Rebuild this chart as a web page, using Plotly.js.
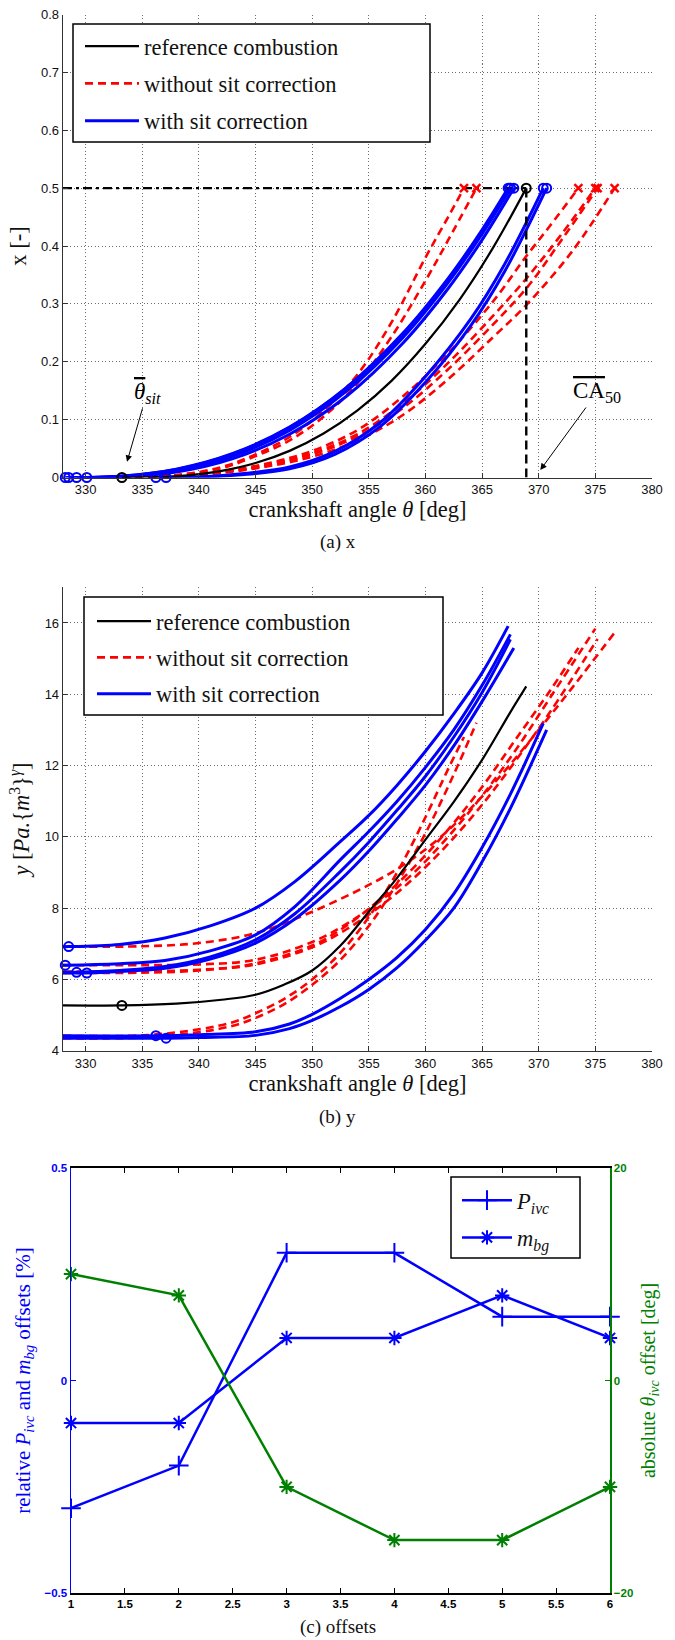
<!DOCTYPE html>
<html><head><meta charset="utf-8">
<script src="https://cdn.plot.ly/plotly-3.0.1.min.js"></script>
<style>html,body{margin:0;padding:0;background:#fff;}</style>
</head><body>
<div id="chart" style="width:675px;height:1640px;"></div>
<script>
// ---------------- (a) x : mass fraction burned ----------------
const aRefTheta = [333.2, 336, 339, 342, 345, 348, 351, 354, 357, 360, 363, 366, 368.9];
const aRefX     = [0, 0.0005, 0.0037, 0.0114, 0.025, 0.046, 0.076, 0.116, 0.167, 0.231, 0.307, 0.398, 0.5];

const aBlueTheta1 = [328.5, 333, 338, 343, 348, 353, 358, 362, 365, 367.3];
const aBlueX1     = [0, 0.0021, 0.0138, 0.0407, 0.0865, 0.155, 0.249, 0.344, 0.428, 0.5];
const aBlueTheta2 = [328.2, 333, 338, 343, 348, 353, 358, 362, 365, 367.5];
const aBlueX2     = [0, 0.0023, 0.0145, 0.0415, 0.087, 0.1546, 0.247, 0.340, 0.423, 0.5];
const aBlueTheta3 = [329.2, 333, 338, 343, 348, 353, 358, 362, 365, 367.5];
const aBlueX3     = [0, 0.0014, 0.0118, 0.037, 0.0815, 0.1487, 0.2417, 0.3368, 0.4209, 0.5];
const aBlueTheta4 = [330.1, 333, 338, 343, 348, 353, 358, 362, 365, 367.8];
const aBlueX4     = [0, 0.0007, 0.0093, 0.0325, 0.0748, 0.140, 0.232, 0.3266, 0.4107, 0.5];
const aBlueTheta5 = [336.2, 340, 344, 348, 352, 356, 360, 364, 367, 370.4];
const aBlueX5     = [0, 0.0009, 0.0069, 0.018, 0.045, 0.095, 0.1747, 0.274, 0.369, 0.5];
const aBlueTheta6 = [337.1, 340, 344, 348, 352, 356, 360, 364, 367, 370.7];
const aBlueX6     = [0, 0.0004, 0.0051, 0.015, 0.04, 0.088, 0.1645, 0.2624, 0.3564, 0.5];

const aRedTheta1 = [333.2, 338, 342, 345, 348, 351, 354, 357, 360, 362, 363.4];
const aRedX1     = [0, 0.004, 0.018, 0.04, 0.07, 0.115, 0.178, 0.268, 0.38, 0.45, 0.5];
const aRedTheta2 = [333.2, 338, 342, 345, 348, 351, 354, 357, 360, 362, 364.5];
const aRedX2     = [0, 0.004, 0.016, 0.037, 0.064, 0.105, 0.163, 0.243, 0.34, 0.41, 0.5];
const aRedTheta3 = [333.2, 338, 342, 346, 350, 354, 358, 362, 366, 369, 371, 373.5];
const aRedX3     = [0, 0.003, 0.01, 0.024, 0.046, 0.082, 0.14, 0.215, 0.305, 0.385, 0.435, 0.5];
const aRedTheta4 = [333.2, 338, 342, 346, 350, 354, 358, 362, 366, 369, 372, 375];
const aRedX4     = [0, 0.003, 0.009, 0.022, 0.042, 0.075, 0.128, 0.198, 0.28, 0.346, 0.42, 0.5];
const aRedTheta5 = [333.2, 338, 342, 346, 350, 354, 358, 362, 366, 369, 372, 375.2];
const aRedX5     = [0, 0.003, 0.009, 0.021, 0.04, 0.071, 0.12, 0.187, 0.265, 0.329, 0.41, 0.5];
const aRedTheta6 = [333.2, 338, 342, 346, 350, 354, 358, 362, 366, 369, 373, 376.7];
const aRedX6     = [0, 0.002, 0.008, 0.019, 0.036, 0.064, 0.108, 0.17, 0.243, 0.3, 0.392, 0.5];

// ---------------- (b) y = p V^gamma ----------------
const bRefTheta = [328, 333.2, 338, 342, 345, 347.5, 350, 352.5, 355, 357.5, 360, 362.5, 365, 367.5, 368.9];
const bRefY     = [5.27, 5.27, 5.32, 5.43, 5.57, 5.85, 6.25, 6.95, 7.9, 8.85, 9.92, 10.98, 12.16, 13.5, 14.22];

const bBlueTheta1 = [328, 328.5, 333, 337, 341, 345, 348.5, 352.5, 355, 357.5, 360, 362.5, 365, 367.3];
const bBlueY1     = [6.92, 6.92, 6.98, 7.16, 7.5, 8.0, 8.75, 9.87, 10.6, 11.45, 12.4, 13.45, 14.6, 15.91];
const bBlueTheta2 = [328, 328.2, 333, 337, 341, 345, 348.5, 352.5, 355, 357.5, 360, 362.5, 365, 367.5];
const bBlueY2     = [6.4, 6.4, 6.44, 6.53, 6.8, 7.25, 8.05, 9.36, 10.15, 11.0, 11.95, 13.0, 14.25, 15.68];
const bBlueTheta3 = [328, 329.2, 333, 337, 341, 345, 348.5, 352.5, 355, 357.5, 360, 362.5, 365, 367.5];
const bBlueY3     = [6.2, 6.2, 6.25, 6.36, 6.63, 7.11, 7.85, 9.03, 9.85, 10.75, 11.7, 12.8, 14.05, 15.54];
const bBlueTheta4 = [328, 330.1, 333, 337, 341, 345, 348.5, 352.5, 355, 357.5, 360, 362.5, 365, 367.8];
const bBlueY4     = [6.18, 6.18, 6.22, 6.31, 6.57, 7.02, 7.7, 8.79, 9.6, 10.5, 11.45, 12.55, 13.8, 15.3];
const bBlueTheta5 = [328, 336.2, 340, 345, 348, 350, 352.5, 355, 357.5, 360, 362.5, 365, 367.5, 370.4];
const bBlueY5     = [4.42, 4.42, 4.45, 4.53, 4.75, 5.02, 5.47, 6.0, 6.62, 7.4, 8.4, 9.7, 11.2, 13.18];
const bBlueTheta6 = [328, 337.1, 340, 345, 348, 350, 352.5, 355, 357.5, 360, 362.5, 365, 367.5, 370.7];
const bBlueY6     = [4.35, 4.35, 4.37, 4.43, 4.62, 4.85, 5.24, 5.72, 6.33, 7.1, 8.0, 9.3, 10.8, 13.0];

const bRedTheta1 = [328, 335, 340, 343, 345, 347.5, 350, 352.5, 355, 357.5, 360, 362, 363.4];
const bRedY1     = [4.42, 4.43, 4.6, 4.8, 5.05, 5.45, 6.0, 6.75, 7.75, 9.0, 10.55, 11.9, 12.8];
const bRedTheta2 = [328, 335, 340, 343, 345, 347.5, 350, 352.5, 355, 357.5, 360, 362.5, 364.5];
const bRedY2     = [4.35, 4.37, 4.52, 4.7, 4.92, 5.3, 5.85, 6.55, 7.5, 8.7, 10.1, 11.75, 13.2];
const bRedTheta3 = [328, 335, 340, 345, 350, 353, 356, 359, 362, 365, 368, 371, 373.5];
const bRedY3     = [6.18, 6.19, 6.25, 6.45, 6.95, 7.5, 8.25, 9.15, 10.2, 11.4, 12.75, 14.1, 15.3];
const bRedTheta4 = [328, 335, 340, 345, 350, 353, 356, 359, 362, 365, 368, 371, 375];
const bRedY4     = [6.4, 6.4, 6.42, 6.55, 7.05, 7.55, 8.2, 9.0, 10.0, 11.15, 12.45, 13.9, 15.84];
const bRedTheta5 = [328, 335, 340, 345, 350, 353, 356, 359, 362, 365, 368, 371, 375.2];
const bRedY5     = [6.22, 6.23, 6.27, 6.42, 6.9, 7.4, 8.05, 8.85, 9.8, 10.9, 12.15, 13.5, 15.55];
const bRedTheta6 = [328, 335, 340, 345, 350, 355, 358, 361, 364, 367, 370, 373, 376.7];
const bRedY6     = [6.92, 6.93, 7.02, 7.3, 7.9, 8.65, 9.2, 9.9, 10.8, 11.85, 13.0, 14.2, 15.73];

// ---------------- (c) offsets ----------------
const offsetIndex    = [1, 2, 3, 4, 5, 6];
const pIvcOffset     = [-0.3, -0.2, 0.3, 0.3, 0.15, 0.15];
const mBgOffset      = [-0.1, -0.1, 0.1, 0.1, 0.2, 0.1];
const thetaIvcOffset = [10, 8, -10, -15, -15, -10];

const thetaRange = [328, 380];

// ---------------- styling ----------------
const BLUE = 'rgb(0,0,255)', RED = 'rgb(255,0,0)', GREEN = 'rgb(0,128,0)', BLACK = 'rgb(0,0,0)';
const SERIF = '"Liberation Serif", "Times New Roman", serif';
const SANS = '"Liberation Sans", Arial, sans-serif';
const REDDASH = '8px,5px';
const W = 675, H = 1640;
const px = v => v / W, py = v => 1 - v / H;

const aBlueThetas = [aBlueTheta1, aBlueTheta2, aBlueTheta3, aBlueTheta4, aBlueTheta5, aBlueTheta6];
const aBlueXs = [aBlueX1, aBlueX2, aBlueX3, aBlueX4, aBlueX5, aBlueX6];
const aRedThetas = [aRedTheta1, aRedTheta2, aRedTheta3, aRedTheta4, aRedTheta5, aRedTheta6];
const aRedXs = [aRedX1, aRedX2, aRedX3, aRedX4, aRedX5, aRedX6];
const bBlueThetas = [bBlueTheta1, bBlueTheta2, bBlueTheta3, bBlueTheta4, bBlueTheta5, bBlueTheta6];
const bBlueYs = [bBlueY1, bBlueY2, bBlueY3, bBlueY4, bBlueY5, bBlueY6];
const bRedThetas = [bRedTheta1, bRedTheta2, bRedTheta3, bRedTheta4, bRedTheta5, bRedTheta6];
const bRedYs = [bRedY1, bRedY2, bRedY3, bRedY4, bRedY5, bRedY6];
const last = a => a[a.length - 1];

function curve(xs, ys, xa, ya, color, width, dash, name, show, legendId, group, rank) {
  return {type: 'scatter', mode: 'lines', x: xs, y: ys, xaxis: xa, yaxis: ya,
    line: {color: color, width: width, dash: dash || 'solid', shape: 'spline', smoothing: 1},
    name: name, showlegend: show, legend: legendId, legendgroup: group, legendrank: rank,
    hoverinfo: 'skip'};
}
function marks(xs, ys, xa, ya, color, symbol, size, lw) {
  return {type: 'scatter', mode: 'markers', x: xs, y: ys, xaxis: xa, yaxis: ya,
    marker: {symbol: symbol, size: size, color: color, line: {color: color, width: lw}},
    showlegend: false, cliponaxis: false, hoverinfo: 'skip'};
}

const traces = [];
// panel a
aRedThetas.forEach((t, i) => traces.push(curve(t, aRedXs[i], 'x', 'y', RED, 2.6, REDDASH,
  'without sit correction', i === 0, 'legend', 'a2', 2)));
aBlueThetas.forEach((t, i) => traces.push(curve(t, aBlueXs[i], 'x', 'y', BLUE, 3, null,
  'with sit correction', i === 0, 'legend', 'a3', 3)));
traces.push(curve(aRefTheta, aRefX, 'x', 'y', BLACK, 2.2, null, 'reference combustion', true, 'legend', 'a1', 1));
traces.push({type: 'scatter', mode: 'lines', x: [thetaRange[0], last(aRefTheta)], y: [last(aRefX), last(aRefX)],
  xaxis: 'x', yaxis: 'y', line: {color: BLACK, width: 2.4, dash: '9px,4px,3px,4px'}, showlegend: false, hoverinfo: 'skip'});
traces.push({type: 'scatter', mode: 'lines', x: [last(aRefTheta), last(aRefTheta)], y: [0, last(aRefX)],
  xaxis: 'x', yaxis: 'y', line: {color: BLACK, width: 2.4, dash: '9px,5px'}, showlegend: false, hoverinfo: 'skip'});
traces.push(marks(aBlueThetas.map(t => t[0]).concat(aBlueThetas.map(last)),
  aBlueXs.map(v => v[0]).concat(aBlueXs.map(last)), 'x', 'y', BLUE, 'circle-open', 9, 2));
traces.push(marks([aRefTheta[0], last(aRefTheta)], [aRefX[0], last(aRefX)], 'x', 'y', BLACK, 'circle-open', 9, 2));
traces.push(marks(aRedThetas.map(last), aRedXs.map(last), 'x', 'y', RED, 'x-thin', 8, 2.5));

// panel b
bRedThetas.forEach((t, i) => traces.push(curve(t, bRedYs[i], 'x2', 'y2', RED, 2.6, REDDASH,
  'without sit correction', i === 0, 'legend2', 'b2', 2)));
bBlueThetas.forEach((t, i) => traces.push(curve(t, bBlueYs[i], 'x2', 'y2', BLUE, 3, null,
  'with sit correction', i === 0, 'legend2', 'b3', 3)));
traces.push(curve(bRefTheta, bRefY, 'x2', 'y2', BLACK, 2.2, null, 'reference combustion', true, 'legend2', 'b1', 1));
traces.push(marks(bBlueThetas.map(t => t[1]), bBlueYs.map(v => v[1]), 'x2', 'y2', BLUE, 'circle-open', 9, 2));
traces.push(marks([bRefTheta[1]], [bRefY[1]], 'x2', 'y2', BLACK, 'circle-open', 9, 2));

// panel c
traces.push({type: 'scatter', mode: 'lines+markers', x: offsetIndex, y: pIvcOffset, xaxis: 'x3', yaxis: 'y3',
  name: '<i>P</i><sub><i>ivc</i></sub>', legend: 'legend3', legendgroup: 'c1', legendrank: 1,
  line: {color: BLUE, width: 2.5}, marker: {symbol: 'cross-thin-open', size: 14, color: BLUE, line: {color: BLUE, width: 2}},
  cliponaxis: false, hoverinfo: 'skip'});
traces.push({type: 'scatter', mode: 'lines+markers', x: offsetIndex, y: mBgOffset, xaxis: 'x3', yaxis: 'y3',
  name: '<i>m</i><sub><i>bg</i></sub>', legend: 'legend3', legendgroup: 'c2', legendrank: 2,
  line: {color: BLUE, width: 2.5}, marker: {symbol: 'asterisk-open', size: 12, color: BLUE, line: {color: BLUE, width: 2}},
  cliponaxis: false, hoverinfo: 'skip'});
traces.push({type: 'scatter', mode: 'lines+markers', x: offsetIndex, y: thetaIvcOffset, xaxis: 'x3', yaxis: 'y4',
  showlegend: false,
  line: {color: GREEN, width: 2.5}, marker: {symbol: 'asterisk-open', size: 12, color: GREEN, line: {color: GREEN, width: 2}},
  cliponaxis: false, hoverinfo: 'skip'});

// axes
const tickFontAB = {family: SANS, size: 13, color: '#111'};
const titleFontAB = {family: SERIF, size: 22.5, color: '#111'};
const gridAB = {showgrid: true, gridcolor: '#6e6e6e', gridwidth: 1, griddash: '1px,2.5px', zeroline: false,
  showline: true, linecolor: '#333', linewidth: 1.3, ticks: 'inside', ticklen: 5, tickwidth: 1, tickcolor: '#333',
  tickfont: tickFontAB};
const xDomAB = [px(63), px(652)];
const legFont = {family: SERIF, size: 22.5, color: '#111'};

const layout = {
  width: W, height: H, margin: {l: 0, r: 0, t: 0, b: 0},
  paper_bgcolor: '#ffffff', plot_bgcolor: 'rgba(0,0,0,0)',
  font: {family: SANS, color: '#111'},
  showlegend: true,
  xaxis: Object.assign({}, gridAB, {domain: xDomAB, anchor: 'y', range: thetaRange, tick0: 330, dtick: 5,
    title: {text: 'crankshaft angle <i>θ</i> [deg]', font: titleFontAB, standoff: 4}}),
  yaxis: Object.assign({}, gridAB, {domain: [py(477.5), py(14.5)], anchor: 'x', range: [0, 0.8], tick0: 0, dtick: 0.1,
    title: {text: 'x [-]', font: titleFontAB, standoff: 8}}),
  xaxis2: Object.assign({}, gridAB, {domain: xDomAB, anchor: 'y2', range: thetaRange, tick0: 330, dtick: 5,
    title: {text: 'crankshaft angle <i>θ</i> [deg]', font: titleFontAB, standoff: 4}}),
  yaxis2: Object.assign({}, gridAB, {domain: [py(1050.7), py(587.3)], anchor: 'x2', range: [4, 17], tick0: 4, dtick: 2,
    title: {text: '<i>y</i> [<i>Pa.</i>{<i>m</i><sup>3</sup>}<sup><i>γ</i></sup>]', font: titleFontAB, standoff: 8}}),
  xaxis3: {domain: [px(71), px(610)], anchor: 'y3', range: [1, 6], tick0: 1, dtick: 0.5,
    showgrid: false, zeroline: false, showline: true, linecolor: BLACK, linewidth: 1.3, mirror: 'ticks',
    ticks: 'inside', ticklen: 5, tickcolor: BLACK, tickfont: {family: SANS, size: 11.5, color: BLACK, weight: 'bold'}},
  yaxis3: {domain: [py(1593.3), py(1167.7)], anchor: 'x3', range: [-0.5, 0.5], tickvals: [-0.5, 0, 0.5],
    showgrid: false, zeroline: false, showline: true, linecolor: BLUE, linewidth: 1.5,
    ticks: 'inside', ticklen: 5, tickcolor: BLUE, tickfont: {family: SANS, size: 11.5, color: BLUE, weight: 'bold'},
    title: {text: 'relative <i>P</i><sub><i>ivc</i></sub> and <i>m</i><sub><i>bg</i></sub> offsets [%]',
      font: {family: SERIF, size: 21, color: BLUE}, standoff: 8}},
  yaxis4: {overlaying: 'y3', side: 'right', anchor: 'x3', range: [-20, 20], tickvals: [-20, 0, 20],
    showgrid: false, zeroline: false, showline: true, linecolor: GREEN, linewidth: 1.5,
    ticks: 'inside', ticklen: 5, tickcolor: GREEN, tickfont: {family: SANS, size: 11.5, color: GREEN, weight: 'bold'},
    title: {text: 'absolute <i>θ</i><sub><i>ivc</i></sub> offset [deg]',
      font: {family: SERIF, size: 20, color: GREEN}, standoff: 8}},
  legend: {x: px(80), y: py(25), xanchor: 'left', yanchor: 'top', bgcolor: 'rgba(0,0,0,0)', borderwidth: 0,
    font: legFont, traceorder: 'grouped', tracegroupgap: 5, itemwidth: 54},
  legend2: {x: px(92), y: py(600), xanchor: 'left', yanchor: 'top', bgcolor: 'rgba(0,0,0,0)', borderwidth: 0,
    font: legFont, traceorder: 'grouped', tracegroupgap: 4, itemwidth: 54},
  legend3: {x: px(457), y: py(1179), xanchor: 'left', yanchor: 'top', bgcolor: 'rgba(0,0,0,0)', borderwidth: 0,
    font: legFont, traceorder: 'grouped', tracegroupgap: 5, itemwidth: 50},
  shapes: [
    {type: 'rect', xref: 'paper', yref: 'paper', x0: px(73), x1: px(430), y0: py(142), y1: py(24),
      fillcolor: '#ffffff', line: {color: BLACK, width: 1.5}, layer: 'above'},
    {type: 'rect', xref: 'paper', yref: 'paper', x0: px(84), x1: px(443), y0: py(715), y1: py(597),
      fillcolor: '#ffffff', line: {color: BLACK, width: 1.5}, layer: 'above'},
    {type: 'rect', xref: 'paper', yref: 'paper', x0: px(451), x1: px(580), y0: py(1258), y1: py(1177),
      fillcolor: '#ffffff', line: {color: BLACK, width: 1.5}, layer: 'above'}
  ],
  annotations: [
    {xref: 'x', yref: 'y', x: 333.65, y: 0.027, ax: 20, ay: -69,
      text: '<span style="text-decoration:overline"><i>θ</i></span><sub><i>sit</i></sub>',
      font: {family: SERIF, size: 23, color: BLACK}, showarrow: true, arrowhead: 2, arrowsize: 1.3, arrowwidth: 1, arrowcolor: BLACK},
    {xref: 'x', yref: 'y', x: 370.14, y: 0.013, ax: 57, ay: -78,
      text: '<span style="text-decoration:overline">CA</span><sub>50</sub>',
      font: {family: SERIF, size: 23, color: BLACK}, showarrow: true, arrowhead: 2, arrowsize: 1.3, arrowwidth: 1, arrowcolor: BLACK},
    {xref: 'paper', yref: 'paper', x: 0.5, y: py(542), xanchor: 'center', yanchor: 'middle', showarrow: false,
      text: '(a) x', font: {family: SERIF, size: 19, color: '#111'}},
    {xref: 'paper', yref: 'paper', x: 0.5, y: py(1117), xanchor: 'center', yanchor: 'middle', showarrow: false,
      text: '(b) y', font: {family: SERIF, size: 19, color: '#111'}},
    {xref: 'paper', yref: 'paper', x: 0.5, y: py(1627), xanchor: 'center', yanchor: 'middle', showarrow: false,
      text: '(c) offsets', font: {family: SERIF, size: 19, color: '#111'}}
  ]
};

Plotly.newPlot('chart', traces, layout, {staticPlot: true, displayModeBar: false});
</script>
</body></html>
